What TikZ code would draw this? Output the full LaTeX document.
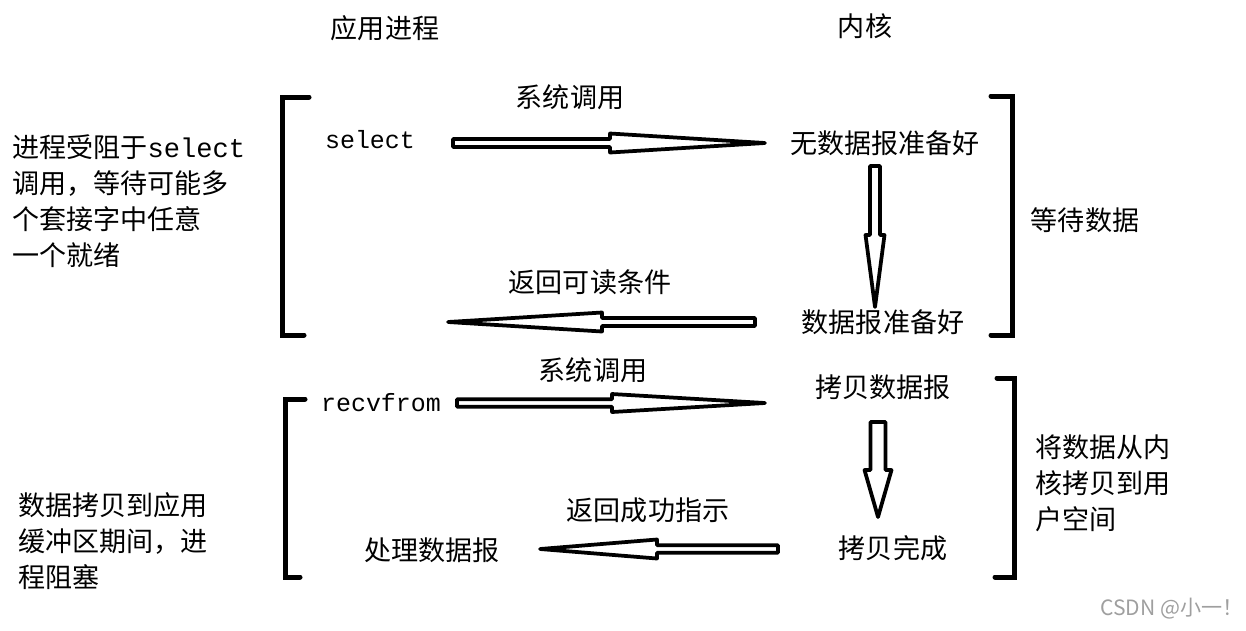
\documentclass[tikz,border=0pt]{standalone}
\usepackage{fontspec}
\setmainfont{Noto Sans CJK SC}
\setmonofont{Liberation Mono}
\usetikzlibrary{calc}

% hollow "fat" arrow: tail, tip, shaft half-width, head half-width, head length
\newcommand{\fatarrow}[5]{%
  \coordinate (fa-b) at ($(#2)!#5!(#1)$);
  \draw[fat] ($(#1)!#3!90:(#2)$) -- ($(fa-b)!#3!90:(#2)$) -- ($(fa-b)!#4!90:(#2)$) -- (#2)
    -- ($(fa-b)!#4!-90:(#2)$) -- ($(fa-b)!#3!-90:(#2)$) -- ($(#1)!#3!-90:(#2)$) -- cycle;
}

\begin{document}
\begin{tikzpicture}[x=0.02cm, y=-0.02cm,
  txt/.style={inner sep=0pt, font=\fontsize{15.4}{20.5}\selectfont},
  code/.style={inner sep=0pt, font=\fontsize{14.2}{20.5}\selectfont\ttfamily},
  note/.style={txt, align=left, anchor=west},
  fat/.style={draw, line width=0.075cm, line join=round, fill=white},
  brk/.style={line width=0.1cm, line cap=round}]
\useasboundingbox (0,0) rectangle (1246,630);

% headers
\node[txt] (app) at (385,28) {应用进程};
\node[txt] (ker) at (865,26) {内核};

% select phase
\node[code] (sel) at (370,140) {select};
\node[txt] (call1) at (570,97) {系统调用};
\node[txt] (nodata) at (885,143) {无数据报准备好};
\node[txt] (ready) at (883,322) {数据报准备好};
\node[txt] (ret1) at (590,282) {返回可读条件};
\node[txt] (wait) at (1085,220) {等待数据};
\node[note] (note1) at (12,201) {进程受阻于\texttt{select}\\调用，等待可能多\\个套接字中任意\\一个就绪};

% recvfrom phase
\node[code] (recv) at (381,403) {recvfrom};
\node[txt] (call2) at (593,370) {系统调用};
\node[txt] (copy) at (883,387) {拷贝数据报};
\node[txt] (done) at (893,548) {拷贝完成};
\node[txt] (ret2) at (648,510) {返回成功指示};
\node[txt] (proc) at (432,550) {处理数据报};
\node[note] (note2) at (1035,483) {将数据从内\\核拷贝到用\\户空间};
\node[note] (note3) at (18,541) {数据拷贝到应用\\缓冲区期间，进\\程阻塞};

\node[inner sep=0pt, text=gray!75, font=\fontsize{12}{14}\selectfont] (mark) at (1172,609) {CSDN @小一！};

% arrow ends
\coordinate (a1s) at ($(sel)+(83,3)$);
\coordinate (a1e) at ($(nodata)+(-120,0)$);
\coordinate (a2s) at ($(ready)+(-128,0)$);
\coordinate (a2e) at ($(sel)+(78,182)$);
\coordinate (a3s) at ($(recv)+(76,0)$);
\coordinate (a3e) at ($(copy)+(-118,16)$);
\coordinate (a4s) at ($(done)+(-115,1)$);
\coordinate (a4e) at ($(proc)+(108,-1)$);
\coordinate (d1s) at ($(nodata)+(-10,23)$);
\coordinate (d1e) at ($(ready)+(-8,-15)$);
\coordinate (d2s) at ($(copy)+(-5,35)$);
\coordinate (d2e) at ($(done)+(-15,-31)$);

\fatarrow{a1s}{a1e}{0.08cm}{0.19cm}{3.1cm}
\fatarrow{a2s}{a2e}{0.08cm}{0.19cm}{3.08cm}
\fatarrow{a3s}{a3e}{0.075cm}{0.18cm}{3.06cm}
\fatarrow{a4s}{a4e}{0.075cm}{0.19cm}{2.34cm}
\fatarrow{d1s}{d1e}{0.1cm}{0.19cm}{1.44cm}
\fatarrow{d2s}{d2e}{0.15cm}{0.27cm}{0.94cm}

% brackets
\draw[brk] (309,97) -- (282,97) -- (282,335) -- (304,335);
\draw[brk] (991,96) -- (1012,96) -- (1012,335) -- (991,335);
\draw[brk] (305,399) -- (285,399) -- (285,577) -- (300,577);
\draw[brk] (997,378) -- (1014,378) -- (1014,577) -- (995,577);
\end{tikzpicture}
\end{document}
